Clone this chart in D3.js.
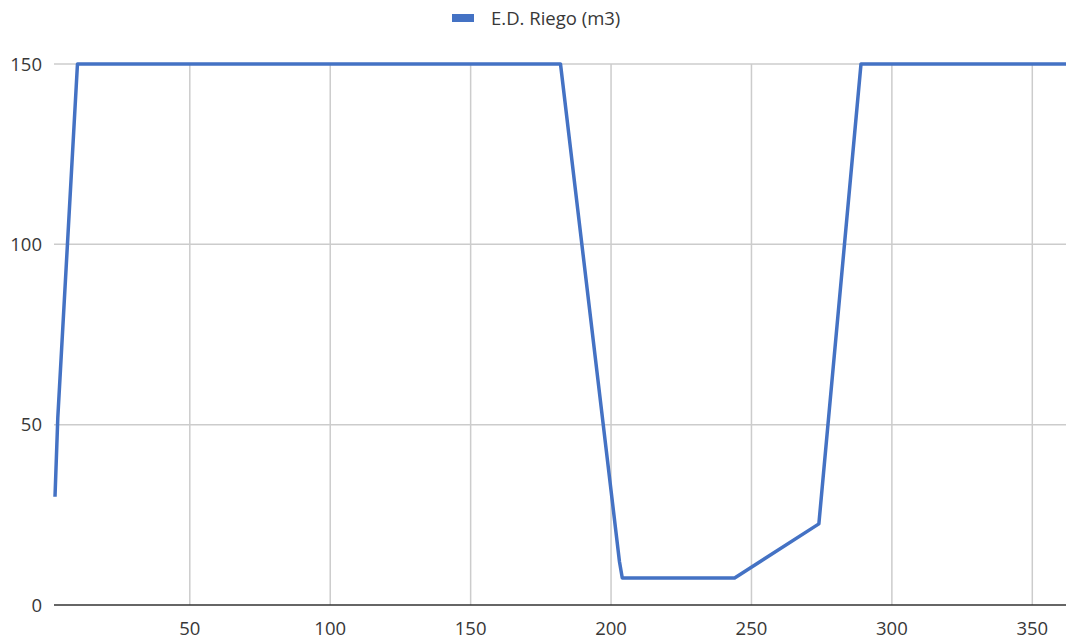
<!DOCTYPE html>
<html>
<head>
<meta charset="utf-8">
<script src="https://cdn.jsdelivr.net/npm/d3@7"></script>
<style>
  body { margin: 0; background: #fff; }
  text { font-family: "Open Sans", "Noto Sans", sans-serif; }
</style>
</head>
<body>
<div id="chart"></div>
<script>
// day of year and irrigation demand
var days   = [2, 3, 10, 182, 203, 204, 244, 274, 289, 362];
var values = [30, 52, 150, 150, 12, 7.5, 7.5, 22.5, 150, 150];
var seriesName = "E.D. Riego (m3)";
var xTicks = [50, 100, 150, 200, 250, 300, 350];
var yTicks = [0, 50, 100, 150];

var dims = {
    width: 1066,
    height: 641,
    left: 55,
    right: 1066,
    top: 64,
    bottom: 605,
    color: "#4472c4"
};

var data = days.map(function(d, i){
    return {x: d, y: values[i]};
});

var x = d3.scaleLinear()
    .domain([2, 362])
    .range([dims.left, dims.right]);
var y = d3.scaleLinear()
    .domain([0, 150])
    .range([dims.bottom, dims.top]);

var svg = d3.select('#chart')
    .append('svg')
    .attr('width', dims.width)
    .attr('height', dims.height);

// gridlines
svg.append('g')
    .selectAll('line')
    .data(yTicks.filter(function(t){ return t > 0; }))
    .enter()
    .append('line')
    .attr('x1', dims.left - 1)
    .attr('x2', dims.right)
    .attr('y1', function(d){ return y(d); })
    .attr('y2', function(d){ return y(d); })
    .attr('stroke', '#cccccc')
    .attr('stroke-width', 1.5);

svg.append('g')
    .selectAll('line')
    .data(xTicks)
    .enter()
    .append('line')
    .attr('x1', function(d){ return x(d); })
    .attr('x2', function(d){ return x(d); })
    .attr('y1', dims.top)
    .attr('y2', dims.bottom)
    .attr('stroke', '#cccccc')
    .attr('stroke-width', 1.5);

// tick labels
svg.append('g')
    .selectAll('text')
    .data(yTicks)
    .enter()
    .append('text')
    .attr('x', 42)
    .attr('y', function(d){ return y(d) + 6.5; })
    .attr('text-anchor', 'end')
    .attr('font-size', 18.5)
    .attr('fill', '#383838')
    .text(function(d){ return d; });

svg.append('g')
    .selectAll('text')
    .data(xTicks)
    .enter()
    .append('text')
    .attr('x', function(d){ return x(d); })
    .attr('y', 635)
    .attr('text-anchor', 'middle')
    .attr('font-size', 18.5)
    .attr('fill', '#383838')
    .text(function(d){ return d; });

// baseline
svg.append('line')
    .attr('x1', dims.left - 1)
    .attr('x2', dims.right)
    .attr('y1', y(0))
    .attr('y2', y(0))
    .attr('stroke', '#333')
    .attr('stroke-width', 1.5);

// series
var line = d3.line()
    .x(function(d){ return x(d.x); })
    .y(function(d){ return y(d.y); });

svg.append('path')
    .datum(data)
    .attr('d', line)
    .attr('fill', 'none')
    .attr('stroke', dims.color)
    .attr('stroke-width', 3.5)
    .attr('stroke-linejoin', 'round');

// legend
var legend = svg.append('g');
legend.append('rect')
    .attr('x', 452)
    .attr('y', 14)
    .attr('width', 22)
    .attr('height', 8)
    .attr('fill', dims.color);
legend.append('text')
    .attr('x', 491)
    .attr('y', 25)
    .attr('font-size', 18.5)
    .attr('fill', '#383838')
    .text(seriesName);
</script>
</body>
</html>
